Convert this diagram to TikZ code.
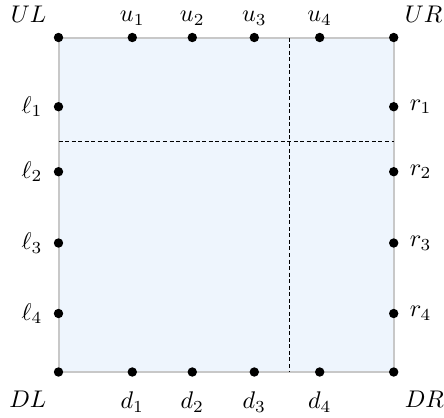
\documentclass[tikz,border=0pt]{standalone}
\usepackage{amsmath,amssymb}
\usepackage{xcolor}
\usepackage{tikz}
\usetikzlibrary{positioning}
\definecolor{squareFill}{HTML}{EEF5FD}
\definecolor{squareEdge}{HTML}{C8C8C8}

\begin{document}
\begin{tikzpicture}[
  x=0.415pt,
  y=-0.415pt,
  dot/.style={
    circle,
    fill=black,
    inner sep=0pt,
    minimum size=3.9pt
  },
  sidelbl/.style={label distance=1pt},
  uplbl/.style={label distance=-0.5pt},
  downlbl/.style={label distance=2.6pt},
  toplbl/.style={yshift=1.3pt},
  botlbl/.style={yshift=-2.9pt},
  edge/.style={draw=squareEdge, line width=0.83pt, fill=squareFill},
  cut/.style={draw=black, line width=0.42pt, dash pattern=on 1.66pt off 1.05pt}
]
\useasboundingbox (0,0) rectangle (444,417);

% corners of the square
\coordinate (ul) at (58.5,37.5);
\coordinate (ur) at (393.7,37.5);
\coordinate (dl) at (58.5,372);
\coordinate (dr) at (393.7,372);
\draw[edge] (ul) rectangle (dr);

% dashed cuts
\coordinate (cutU) at (289.3,37.5);
\coordinate (cutD) at (289.3,372);
\coordinate (cutL) at (58.5,141);
\coordinate (cutR) at (393.7,141);
\draw[cut] (cutU) -- (cutD);
\draw[cut] (cutL) -- (cutR);

% corner points
\node[dot, label={[toplbl]north west:$UL$}] (UL) at (ul) {};
\node[dot, label={[toplbl, xshift=-0.4pt]north east:$UR$}] (UR) at (ur) {};
\node[dot, label={[botlbl]south west:$DL$}] (DL) at (dl) {};
\node[dot, label={[botlbl, xshift=-0.4pt]south east:$DR$}] (DR) at (dr) {};

% upper side
\node[dot, label={[uplbl]above:$u_1$}] (u1) at (132.3,37.5) {};
\node[dot, label={[uplbl]above:$u_2$}] (u2) at (192.3,37.5) {};
\node[dot, label={[uplbl]above:$u_3$}] (u3) at (254.3,37.5) {};
\node[dot, label={[uplbl]above:$u_4$}] (u4) at (319.7,37.5) {};

% lower side
\node[dot, label={[downlbl]below:$d_1$}] (d1) at (132.3,372) {};
\node[dot, label={[downlbl]below:$d_2$}] (d2) at (192.3,372) {};
\node[dot, label={[downlbl]below:$d_3$}] (d3) at (254.3,372) {};
\node[dot, label={[downlbl]below:$d_4$}] (d4) at (319.7,372) {};

% left side
\node[dot, label={[sidelbl]left:$\ell_1$}] (l1) at (58.5,106.7) {};
\node[dot, label={[sidelbl]left:$\ell_2$}] (l2) at (58.5,171.7) {};
\node[dot, label={[sidelbl]left:$\ell_3$}] (l3) at (58.5,243) {};
\node[dot, label={[sidelbl]left:$\ell_4$}] (l4) at (58.5,313.5) {};

% right side
\node[dot, label={[sidelbl]right:$r_1$}] (r1) at (393.7,106.7) {};
\node[dot, label={[sidelbl]right:$r_2$}] (r2) at (393.7,171.7) {};
\node[dot, label={[sidelbl]right:$r_3$}] (r3) at (393.7,243) {};
\node[dot, label={[sidelbl]right:$r_4$}] (r4) at (393.7,313.5) {};

\end{tikzpicture}
\end{document}
